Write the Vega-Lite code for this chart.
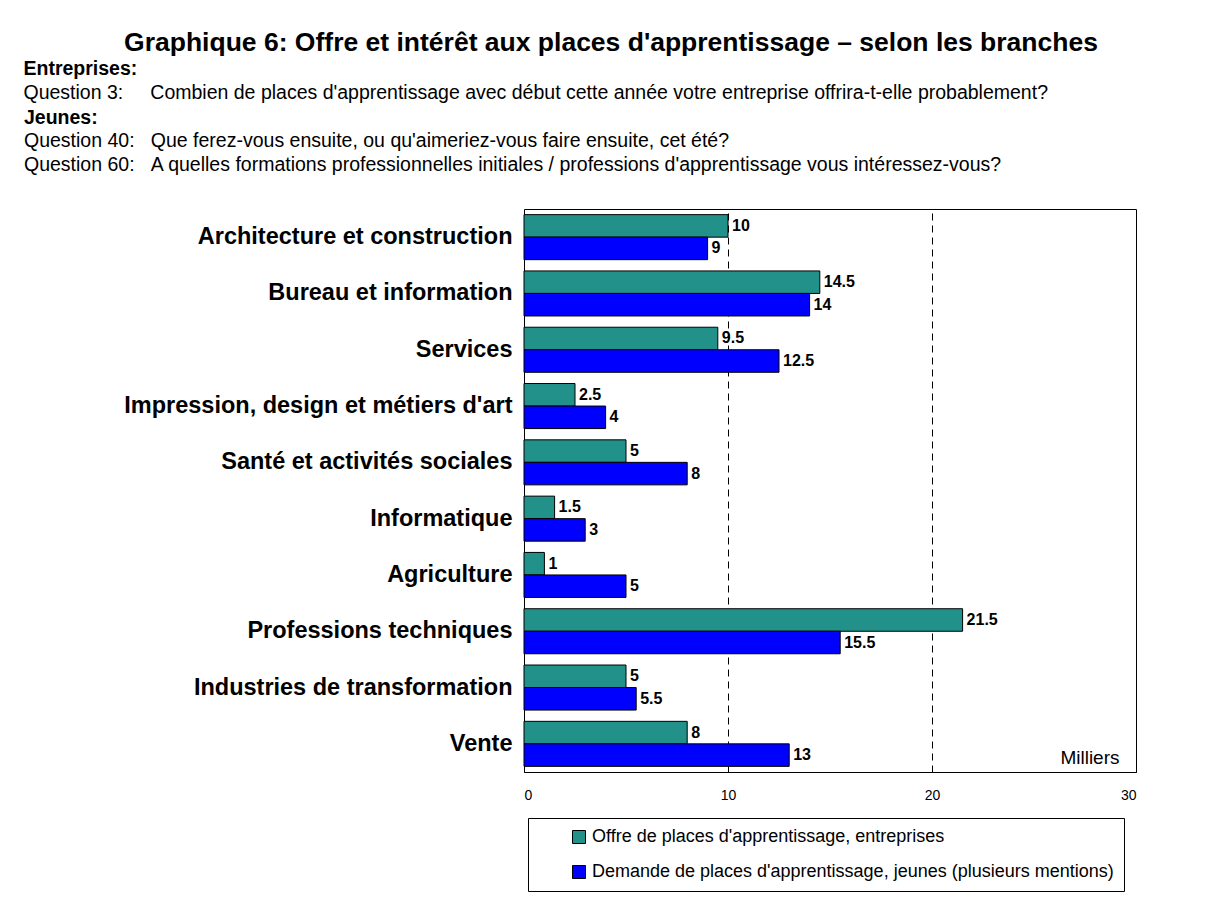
{
  "$schema": "https://vega.github.io/schema/vega-lite/v6.json",
  "background": "white",
  "padding": {"left": 23, "top": 29, "right": 10, "bottom": 5},
  "config": {"font": "Liberation Sans", "view": {"stroke": null}},
  "title": {
    "text": "Graphique 6: Offre et intérêt aux places d'apprentissage – selon les branches",
    "fontSize": 26.5,
    "fontWeight": "bold",
    "color": "black",
    "anchor": "middle",
    "frame": "bounds",
    "dx": 31,
    "offset": 3
  },
  "datasets": {
    "bars": [
      {"branche": "Architecture et construction", "serie": "Offre de places d'apprentissage, entreprises", "valeur": 10},
      {"branche": "Architecture et construction", "serie": "Demande de places d'apprentissage, jeunes (plusieurs mentions)", "valeur": 9},
      {"branche": "Bureau et information", "serie": "Offre de places d'apprentissage, entreprises", "valeur": 14.5},
      {"branche": "Bureau et information", "serie": "Demande de places d'apprentissage, jeunes (plusieurs mentions)", "valeur": 14},
      {"branche": "Services", "serie": "Offre de places d'apprentissage, entreprises", "valeur": 9.5},
      {"branche": "Services", "serie": "Demande de places d'apprentissage, jeunes (plusieurs mentions)", "valeur": 12.5},
      {"branche": "Impression, design et métiers d'art", "serie": "Offre de places d'apprentissage, entreprises", "valeur": 2.5},
      {"branche": "Impression, design et métiers d'art", "serie": "Demande de places d'apprentissage, jeunes (plusieurs mentions)", "valeur": 4},
      {"branche": "Santé et activités sociales", "serie": "Offre de places d'apprentissage, entreprises", "valeur": 5},
      {"branche": "Santé et activités sociales", "serie": "Demande de places d'apprentissage, jeunes (plusieurs mentions)", "valeur": 8},
      {"branche": "Informatique", "serie": "Offre de places d'apprentissage, entreprises", "valeur": 1.5},
      {"branche": "Informatique", "serie": "Demande de places d'apprentissage, jeunes (plusieurs mentions)", "valeur": 3},
      {"branche": "Agriculture", "serie": "Offre de places d'apprentissage, entreprises", "valeur": 1},
      {"branche": "Agriculture", "serie": "Demande de places d'apprentissage, jeunes (plusieurs mentions)", "valeur": 5},
      {"branche": "Professions techniques", "serie": "Offre de places d'apprentissage, entreprises", "valeur": 21.5},
      {"branche": "Professions techniques", "serie": "Demande de places d'apprentissage, jeunes (plusieurs mentions)", "valeur": 15.5},
      {"branche": "Industries de transformation", "serie": "Offre de places d'apprentissage, entreprises", "valeur": 5},
      {"branche": "Industries de transformation", "serie": "Demande de places d'apprentissage, jeunes (plusieurs mentions)", "valeur": 5.5},
      {"branche": "Vente", "serie": "Offre de places d'apprentissage, entreprises", "valeur": 8},
      {"branche": "Vente", "serie": "Demande de places d'apprentissage, jeunes (plusieurs mentions)", "valeur": 13}
    ]
  },
  "resolve": {"legend": {"color": "independent"}},
  "vconcat": [
    {
      "title": {
        "text": "Entreprises:",
        "subtitle": "Question 3:\u00a0\u00a0\u00a0\u00a0\u00a0Combien de places d'apprentissage avec début cette année votre entreprise offrira-t-elle probablement?",
        "anchor": "start", "frame": "bounds",
        "fontSize": 19.5, "fontWeight": "bold", "color": "black",
        "subtitleFontSize": 19.5, "subtitleFontWeight": "normal", "subtitleColor": "black", "subtitlePadding": 4,
        "offset": 4
      },
      "resolve": {"legend": {"color": "independent"}},
      "vconcat": [
        {
          "title": {
            "text": "Jeunes:",
            "subtitle": [
              "Question 40:\u00a0\u00a0\u00a0Que ferez-vous ensuite, ou qu'aimeriez-vous faire ensuite, cet été?",
              "Question 60:\u00a0\u00a0\u00a0A quelles formations professionnelles initiales / professions d'apprentissage vous intéressez-vous?"
            ],
            "anchor": "start", "frame": "bounds",
            "fontSize": 19.5, "fontWeight": "bold", "color": "black",
            "subtitleFontSize": 19.5, "subtitleFontWeight": "normal", "subtitleColor": "black", "subtitlePadding": 4, "subtitleLineHeight": 23.5,
            "offset": 34
          },
          "width": 612,
          "height": 563,
          "data": {"name": "bars"},
          "view": {"stroke": "black", "strokeWidth": 1},
          "encoding": {
            "y": {
              "field": "branche", "type": "nominal", "sort": null,
              "scale": {"paddingInner": 0.2, "paddingOuter": 0.1},
              "axis": {"title": null, "ticks": false, "domain": false, "labelFontSize": 23.5, "labelFontWeight": "bold", "labelColor": "black", "labelPadding": 12, "minExtent": 500, "labelLimit": 500}
            },
            "yOffset": {"field": "serie", "type": "nominal", "sort": null, "scale": {"paddingInner": 0, "paddingOuter": 0}},
            "x": {
              "field": "valeur", "type": "quantitative",
              "scale": {"domain": [0, 30], "nice": false},
              "axis": {
                "values": [0, 10, 20, 30], "grid": true, "gridDash": [7, 5], "gridColor": "black", "gridOpacity": 1, "gridWidth": 1,
                "ticks": false, "domain": false, "labelFontSize": 14, "labelColor": "black", "labelPadding": 16,
                "title": "Milliers", "titleAnchor": "end", "titleAlign": "right", "titleX": 595, "titleY": -9, "titleBaseline": "alphabetic",
                "titleFontSize": 19, "titleFontWeight": "normal", "titleColor": "black"
              }
            }
          },
          "layer": [
            {
              "mark": {"type": "bar", "stroke": "black", "strokeWidth": 1},
              "encoding": {
                "color": {
                  "field": "serie", "type": "nominal", "sort": null,
                  "scale": {"range": ["#22918a", "#0000ff"]},
                  "legend": {
                    "title": null, "orient": "none", "legendX": 4, "legendY": 609, "direction": "vertical",
                    "symbolType": "square", "symbolSize": 169, "symbolStrokeColor": "black", "symbolStrokeWidth": 1,
                    "labelFontSize": 18, "labelColor": "black", "labelOffset": 4, "labelLimit": 800, "rowPadding": 17,
                    "padding": 10, "strokeColor": "black", "fillColor": "white", "symbolOffset": 32,
                    "labelExpr": "datum.label + '\u2003'"
                  }
                }
              }
            },
            {
              "mark": {"type": "text", "align": "left", "baseline": "middle", "dx": 4, "fontSize": 16, "fontWeight": "bold", "color": "black"},
              "encoding": {"text": {"field": "valeur", "type": "quantitative"}}
            }
          ]
        }
      ]
    }
  ]
}
